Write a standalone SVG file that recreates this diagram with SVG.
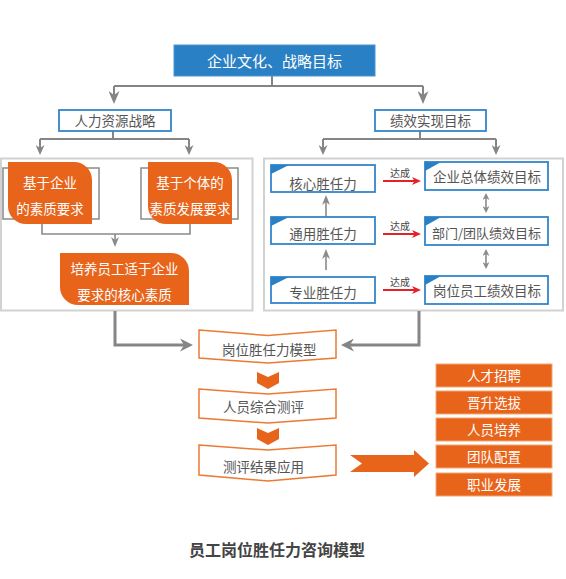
<svg xmlns="http://www.w3.org/2000/svg" width="566" height="579" viewBox="0 0 566 579">
<style>
text{font-family:"Noto Sans CJK SC","Noto Sans",sans-serif;}
.t{font-size:13.5px;fill:#555;text-anchor:middle;}
.tw{font-size:13.5px;fill:#fff;text-anchor:middle;}
.bb{fill:#fff;stroke:#3485cc;stroke-width:1.8;}
.tri{fill:#2a80c4;}
.panel{fill:#fff;stroke:#d2d2d2;stroke-width:2;}
.bracket{fill:none;stroke:#8a8a8a;stroke-width:1.5;}
.or{fill:#e8641b;}
.chev{fill:#fff;stroke:#ec7a33;stroke-width:1.5;}
.ob{fill:#e8641b;stroke:#f2a675;stroke-width:1;}
.g{fill:none;stroke:#858585;stroke-width:2;}
.gs{fill:none;stroke:#8a8a8a;stroke-width:1.6;}
.gb{fill:none;stroke:#858585;stroke-width:3;}
.r{fill:none;stroke:#e52229;stroke-width:2;}
.small{font-size:10px;fill:#444;text-anchor:middle;}
</style>
<defs>
<marker id="mA" viewBox="0 0 13 11" refX="9" refY="5.5" markerWidth="13" markerHeight="11" markerUnits="userSpaceOnUse" orient="auto"><path d="M0,0 L13,5.5 L0,11 L4,5.5 Z" fill="#858585"/></marker>
<marker id="mB" viewBox="0 0 10 9" refX="7" refY="4.5" markerWidth="10" markerHeight="9" markerUnits="userSpaceOnUse" orient="auto"><path d="M0,0 L10,4.5 L0,9 L3,4.5 Z" fill="#858585"/></marker>
<marker id="mC" viewBox="0 0 10 8" refX="7" refY="4" markerWidth="10" markerHeight="8" markerUnits="userSpaceOnUse" orient="auto-start-reverse"><path d="M0,0 L10,4 L0,8 L3,4 Z" fill="#8a8a8a"/></marker>
<marker id="mD" viewBox="0 0 7 7" refX="5" refY="3.5" markerWidth="7" markerHeight="7" markerUnits="userSpaceOnUse" orient="auto-start-reverse"><path d="M0,0 L7,3.5 L0,7 L2,3.5 Z" fill="#8a8a8a"/></marker>
<marker id="mR" viewBox="0 0 9 8" refX="6" refY="4" markerWidth="9" markerHeight="8" markerUnits="userSpaceOnUse" orient="auto"><path d="M0,0 L9,4 L0,8 L2.5,4 Z" fill="#e52229"/></marker>
<marker id="mG" viewBox="0 0 13 13" refX="9" refY="6.5" markerWidth="13" markerHeight="13" markerUnits="userSpaceOnUse" orient="auto"><path d="M0,0 L13,6.5 L0,13 L4,6.5 Z" fill="#858585"/></marker>
</defs>

<!-- panels -->
<rect class="panel" x="1" y="158.5" width="251.5" height="152"/>
<rect class="panel" x="264" y="158.5" width="299" height="152"/>

<g id="connectors">
<path class="g" d="M272,76 V86 M114,86 H423" />
<path class="g" d="M114,86 V100" marker-end="url(#mA)"/>
<path class="g" d="M423,86 V100" marker-end="url(#mA)"/>
<path class="g" d="M113,131 V139 M40,139 H189 M420,131 V139 M323,139 H496"/>
<path class="g" d="M40,139 V152" marker-end="url(#mB)"/>
<path class="g" d="M189,139 V152" marker-end="url(#mB)"/>
<path class="g" d="M323,139 V152" marker-end="url(#mB)"/>
<path class="g" d="M496,139 V152" marker-end="url(#mB)"/>
<path class="gs" d="M42,219 V234 H190 V219"/>
<path class="gs" d="M115,234 V244" marker-end="url(#mC)"/>
<path class="gs" d="M326,217 V198" marker-end="url(#mC)"/>
<path class="gs" d="M326,270 V252" marker-end="url(#mC)"/>
<path class="gs" d="M486,195 V211" marker-start="url(#mD)" marker-end="url(#mD)"/>
<path class="gs" d="M486,251 V267" marker-start="url(#mD)" marker-end="url(#mD)"/>
<path class="r" d="M383,181 H418" marker-end="url(#mR)"/>
<path class="r" d="M383,234 H418" marker-end="url(#mR)"/>
<path class="r" d="M383,290 H418" marker-end="url(#mR)"/>
<path class="gb" d="M115,311 V345 H189" marker-end="url(#mG)"/>
<path class="gb" d="M419,311 V345 H345" marker-end="url(#mG)"/>
<path class="or" d="M257,372 L268,377 L279,372 L279,383 L268,389 L257,383 Z"/>
<path class="or" d="M257,428 L268,433 L279,428 L279,439 L268,445 L257,439 Z"/>
<path class="or" d="M350,455 L414,455 L414,450 L429,463.5 L414,477 L414,472 L350,472 L362,463.5 Z"/>
</g>

<g id="n-top">
<rect x="174" y="45" width="201" height="31" fill="#2a80c4" stroke="#4a95d2" stroke-width="1"/>
<text x="274.5" y="66.5" style="font-size:15px;fill:#fff;text-anchor:middle">企业文化、战略目标</text>
</g>
<g id="n-hr">
<rect class="bb" x="59" y="110" width="112" height="21"/>
<text class="t" x="115" y="125.5">人力资源战略</text>
</g>
<g id="n-perf">
<rect class="bb" x="375" y="110" width="111" height="21"/>
<text class="t" x="430.5" y="125.5">绩效实现目标</text>
</g>

<g id="n-ent-req">
<rect class="bracket" x="3" y="168" width="96" height="51"/>
<path class="or" d="M8,162 H74 A18,18 0 0 1 92,180 V224 H26 A18,18 0 0 1 8,206 Z"/>
<text class="tw" x="50" y="188">基于企业</text>
<text class="tw" x="50" y="214">的素质要求</text>
</g>
<g id="n-ind-req">
<rect class="bracket" x="141" y="168" width="97" height="51"/>
<path class="or" d="M148,162 H214 A18,18 0 0 1 232,180 V224 H166 A18,18 0 0 1 148,206 Z"/>
<text class="tw" x="190" y="188">基于个体的</text>
<text class="tw" x="190" y="214">素质发展要求</text>
</g>
<g id="n-core">
<path class="or" d="M60,253 H171 A18,18 0 0 1 189,271 V305 H78 A18,18 0 0 1 60,287 Z"/>
<text class="tw" x="124.5" y="274">培养员工适于企业</text>
<text class="tw" x="124.5" y="300">要求的核心素质</text>
</g>

<g id="n-c1">
<rect class="bb" x="271" y="165" width="104" height="27"/>
<path class="tri" d="M271,165 H289 L271,174 Z"/>
<text class="t" x="323" y="189">核心胜任力</text>
</g>
<g id="n-c2">
<rect class="bb" x="271" y="217" width="104" height="27"/>
<path class="tri" d="M271,217 H289 L271,226 Z"/>
<text class="t" x="323" y="238.5">通用胜任力</text>
</g>
<g id="n-c3">
<rect class="bb" x="271" y="277" width="104" height="26"/>
<path class="tri" d="M271,277 H289 L271,286 Z"/>
<text class="t" x="323" y="297.5">专业胜任力</text>
</g>

<g id="l-1"><text class="small" x="400" y="177">达成</text></g>
<g id="l-2"><text class="small" x="400" y="230">达成</text></g>
<g id="l-3"><text class="small" x="400" y="286">达成</text></g>

<g id="n-g1">
<rect class="bb" x="425" y="162" width="123" height="28"/>
<path class="tri" d="M425,162 H441 L425,171 Z"/>
<text class="t" x="487" y="182">企业总体绩效目标</text>
</g>
<g id="n-g2">
<rect class="bb" x="425" y="217" width="123" height="28"/>
<path class="tri" d="M425,217 H441 L425,226 Z"/>
<text class="t" x="486.5" y="237.5" style="font-size:13px">部门/团队绩效目标</text>
</g>
<g id="n-g3">
<rect class="bb" x="425" y="276" width="123" height="28"/>
<path class="tri" d="M425,276 H441 L425,285 Z"/>
<text class="t" x="487" y="296">岗位员工绩效目标</text>
</g>

<g id="n-model">
<path class="chev" d="M199,330 L268,335.5 L336,330 L336,358 L268,363 L199,358 Z"/>
<text class="t" x="222" y="355" style="text-anchor:start">岗位胜任力模型</text>
</g>
<g id="n-eval">
<path class="chev" d="M199,389 L268,394 L336,389 L336,418 L268,423 L199,418 Z"/>
<text class="t" x="223" y="412" style="text-anchor:start">人员综合测评</text>
</g>
<g id="n-apply">
<path class="chev" d="M199,445 L268,450 L336,445 L336,475 L268,481 L199,475 Z"/>
<text class="t" x="223" y="472" style="text-anchor:start">测评结果应用</text>
</g>

<g id="n-o1"><rect class="ob" x="436" y="364" width="116" height="23"/><text class="tw" x="494" y="380.5">人才招聘</text></g>
<g id="n-o2"><rect class="ob" x="436" y="391" width="116" height="23"/><text class="tw" x="494" y="407.5">晋升选拔</text></g>
<g id="n-o3"><rect class="ob" x="436" y="418" width="116" height="23"/><text class="tw" x="494" y="434.5">人员培养</text></g>
<g id="n-o4"><rect class="ob" x="436" y="445" width="116" height="23"/><text class="tw" x="494" y="461.5">团队配置</text></g>
<g id="n-o5"><rect class="ob" x="436" y="473" width="116" height="23"/><text class="tw" x="494" y="489.5">职业发展</text></g>

<g id="title">
<text x="277" y="556" style="font-size:16px;font-weight:bold;fill:#444;text-anchor:middle">员工岗位胜任力咨询模型</text>
</g>
</svg>
